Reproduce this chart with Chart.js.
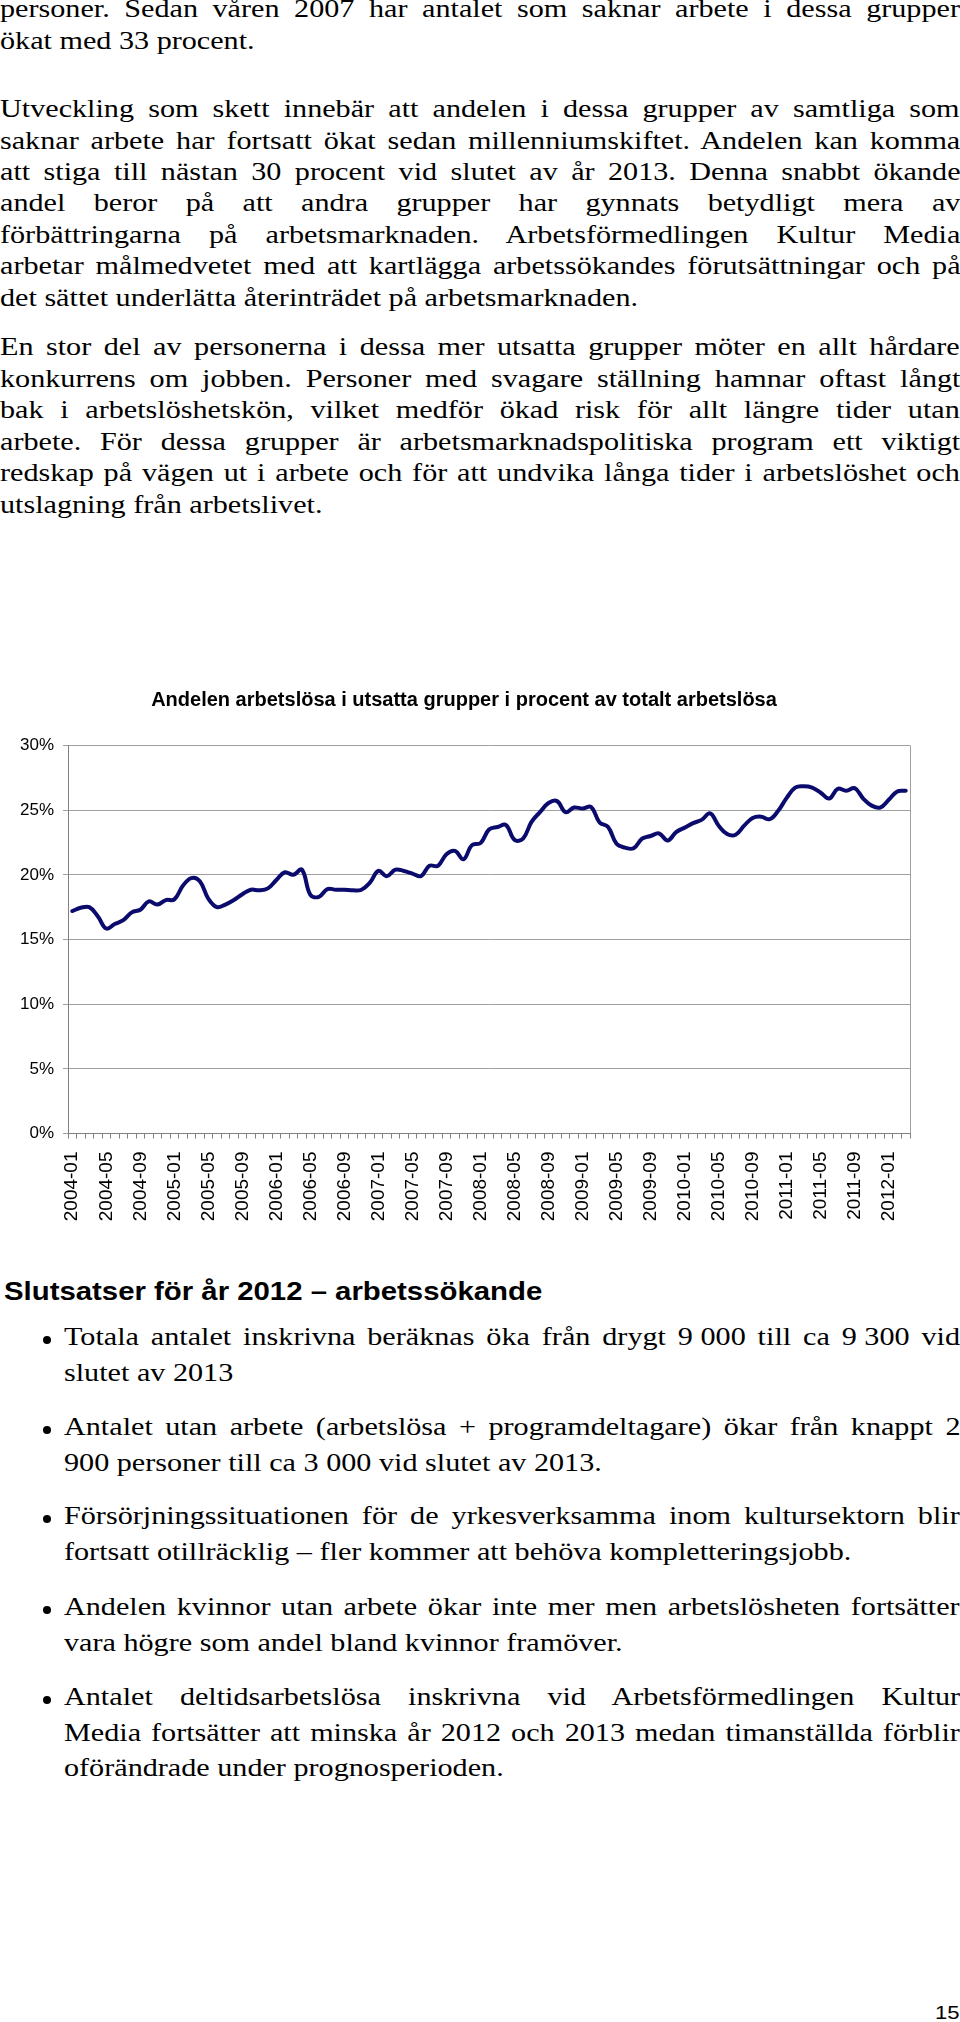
<!DOCTYPE html>
<html><head><meta charset="utf-8">
<script src="https://cdn.jsdelivr.net/npm/chart.js@4.4.1/dist/chart.umd.min.js"></script>
<style>
html,body{margin:0;padding:0;background:#fff;}
body{width:960px;height:2022px;position:relative;overflow:hidden;}
.ln{position:absolute;white-space:nowrap;transform-origin:0 0;color:#000;}
.serif{font-family:'Liberation Serif','Times New Roman',serif;}
.sans{font-family:'Liberation Sans',Arial,sans-serif;}
.nb{word-spacing:0 !important;}
.dot{position:absolute;width:8px;height:8px;border-radius:50%;background:#000;}
#chartBox{position:absolute;left:0;top:670px;width:928px;height:564px;}
</style></head><body>
<div id="text"></div>
<div id="chartBox"><canvas id="c"></canvas></div>
<script>
// ---- chart data ----
const categories = [
'2004-01','2004-02','2004-03','2004-04','2004-05','2004-06','2004-07','2004-08','2004-09','2004-10','2004-11','2004-12',
'2005-01','2005-02','2005-03','2005-04','2005-05','2005-06','2005-07','2005-08','2005-09','2005-10','2005-11','2005-12',
'2006-01','2006-02','2006-03','2006-04','2006-05','2006-06','2006-07','2006-08','2006-09','2006-10','2006-11','2006-12',
'2007-01','2007-02','2007-03','2007-04','2007-05','2007-06','2007-07','2007-08','2007-09','2007-10','2007-11','2007-12',
'2008-01','2008-02','2008-03','2008-04','2008-05','2008-06','2008-07','2008-08','2008-09','2008-10','2008-11','2008-12',
'2009-01','2009-02','2009-03','2009-04','2009-05','2009-06','2009-07','2009-08','2009-09','2009-10','2009-11','2009-12',
'2010-01','2010-02','2010-03','2010-04','2010-05','2010-06','2010-07','2010-08','2010-09','2010-10','2010-11','2010-12',
'2011-01','2011-02','2011-03','2011-04','2011-05','2011-06','2011-07','2011-08','2011-09','2011-10','2011-11','2011-12',
'2012-01','2012-02','2012-03'];

const shareUnemployed = [
17.2,17.45,17.5,16.8,15.85,16.2,16.5,17.1,17.3,17.95,17.7,18.05,
18.1,19.15,19.75,19.5,18.15,17.5,17.7,18.05,18.5,18.85,18.8,18.95,
19.6,20.2,20.0,20.4,18.45,18.3,18.9,18.85,18.85,18.8,18.85,19.4,
20.3,19.9,20.4,20.3,20.1,19.9,20.7,20.7,21.6,21.85,21.2,22.3,
22.45,23.5,23.7,23.85,22.7,22.8,24.1,24.85,25.55,25.7,24.85,25.2,
25.13,25.25,24.05,23.7,22.4,22.1,22.05,22.8,23.0,23.2,22.65,23.3,
23.65,24.0,24.25,24.75,23.8,23.15,23.1,23.8,24.4,24.5,24.3,24.95,
25.95,26.75,26.85,26.75,26.35,25.9,26.65,26.5,26.7,25.9,25.35,25.2,
25.8,26.45,26.5];

const xTickLabels = ['2004-01','2004-05','2004-09','2005-01','2005-05','2005-09','2006-01','2006-05','2006-09',
'2007-01','2007-05','2007-09','2008-01','2008-05','2008-09','2009-01','2009-05','2009-09',
'2010-01','2010-05','2010-09','2011-01','2011-05','2011-09','2012-01'];
const yTickValues = [0,5,10,15,20,25,30];
const yTickLabels = ['0%','5%','10%','15%','20%','25%','30%'];
const chartTitle = 'Andelen arbetslösa i utsatta grupper i procent av totalt arbetslösa';

// ---- page text ----
const S = 1.16; // horizontal stretch of the page
const textHost = document.getElementById('text');
function addLine(html, o){
  const el = document.createElement('div');
  el.className = 'ln ' + (o.sans ? 'sans' : 'serif');
  el.innerHTML = html;
  const k = o.sans ? 0.8465 : 0.8375;
  el.style.fontSize = o.size + 'px';
  el.style.lineHeight = o.size + 'px';
  if (o.bold) el.style.fontWeight = 'bold';
  el.style.left = o.left + 'px';
  el.style.top = (o.base - k*o.size) + 'px';
  el.style.transform = 'scaleX(' + S + ')';
  textHost.appendChild(el);
  if (o.right){
    el.style.wordSpacing = '0px';
    const w = el.offsetWidth;
    const n = el.textContent.split(' ').length - 1;
    const target = (o.right - o.left)/S;
    if (n > 0) el.style.wordSpacing = ((target - w)/n) + 'px';
  }
  return el;
}
function para(lines, base0, step, left, right){
  lines.forEach((t,i)=>{
    addLine(t, {size:26, left:left, base:base0 + i*step, right: i < lines.length-1 ? right : null});
  });
}
para(['personer. Sedan våren 2007 har antalet som saknar arbete i dessa grupper',
      'ökat med 33 procent.'], 18, 31.4, 0, 960);
para(['Utveckling som skett innebär att andelen i dessa grupper av samtliga som',
      'saknar arbete har fortsatt ökat sedan millenniumskiftet. Andelen kan komma',
      'att stiga till nästan 30 procent vid slutet av år 2013. Denna snabbt ökande',
      'andel beror på att andra grupper har gynnats betydligt mera av',
      'förbättringarna på arbetsmarknaden. Arbetsförmedlingen Kultur Media',
      'arbetar målmedvetet med att kartlägga arbetssökandes förutsättningar och på',
      'det sättet underlätta återinträdet på arbetsmarknaden.'], 118, 31.4, 0, 960);
para(['En stor del av personerna i dessa mer utsatta grupper möter en allt hårdare',
      'konkurrens om jobben. Personer med svagare ställning hamnar oftast långt',
      'bak i arbetslöshetskön, vilket medför ökad risk för allt längre tider utan',
      'arbete. För dessa grupper är arbetsmarknadspolitiska program ett viktigt',
      'redskap på vägen ut i arbete och för att undvika långa tider i arbetslöshet och',
      'utslagning från arbetslivet.'], 356, 31.5, 0, 960);

addLine('Slutsatser för år 2012 – arbetssökande', {size:25.3, sans:true, bold:true, left:4, base:1300});

const bullets = [
  {b:1345.5, lines:['Totala antalet inskrivna beräknas öka från drygt <span class="nb">9&nbsp;000</span> till ca <span class="nb">9&nbsp;300</span> vid','slutet av 2013']},
  {b:1435.5, lines:['Antalet utan arbete (arbetslösa + programdeltagare) ökar från knappt 2','900 personer till ca <span class="nb">3&nbsp;000</span> vid slutet av 2013.']},
  {b:1524.5, lines:['Försörjningssituationen för de yrkesverksamma inom kultursektorn blir','fortsatt otillräcklig – fler kommer att behöva kompletteringsjobb.']},
  {b:1615.5, lines:['Andelen kvinnor utan arbete ökar inte mer men arbetslösheten fortsätter','vara högre som andel bland kvinnor framöver.']},
  {b:1705.5, lines:['Antalet deltidsarbetslösa inskrivna vid Arbetsförmedlingen Kultur','Media fortsätter att minska år 2012 och 2013 medan timanställda förblir','oförändrade under prognosperioden.']}
];
bullets.forEach(bl=>{
  const d = document.createElement('div');
  d.className = 'dot';
  d.style.left = '43px';
  d.style.top = (bl.b - 6 - 4) + 'px';
  textHost.appendChild(d);
  para(bl.lines, bl.b, 35.8, 64, 960);
});
addLine('15', {size:19, sans:true, left:935, base:2019});

// ---- chart ----
const frame = {id:'frame', beforeDatasetsDraw(chart){
  const {ctx, chartArea:a} = chart;
  ctx.save(); ctx.strokeStyle = '#a0a0a0'; ctx.lineWidth = 1;
  const x = Math.round(a.right) + 0.5;
  ctx.beginPath(); ctx.moveTo(x, a.top); ctx.lineTo(x, a.bottom); ctx.stroke(); ctx.restore();
}};
const FONT = "'Liberation Sans', Arial, sans-serif";
new Chart(document.getElementById('c'), {
  type:'line',
  data:{labels:categories, datasets:[{data:shareUnemployed, borderColor:'#0b0b6e', borderWidth:4,
    pointRadius:0, tension:0.4, fill:false, borderCapStyle:'round', borderJoinStyle:'round'}]},
  options:{
    responsive:true, maintainAspectRatio:false, animation:false,
    layout:{padding:{left:18,right:18,top:0,bottom:0}},
    plugins:{legend:{display:false}, tooltip:{enabled:false},
      title:{display:true, text:chartTitle, color:'#000', font:{family:FONT, size:20, weight:'bold'}, padding:{top:18,bottom:33.5}}},
    scales:{
      x:{type:'category', offset:true,
        grid:{display:true, drawOnChartArea:false, drawTicks:true, tickLength:5, offset:true, color:'#808080'},
        border:{display:true, color:'#808080', width:1},
        ticks:{autoSkip:false, maxRotation:90, minRotation:90, padding:13, color:'#000', font:{family:FONT, size:19},
          callback:(v,i)=> xTickLabels.includes(categories[i]) ? categories[i] : ''},
        afterFit:(s)=>{ s.height = 100.5; s.paddingLeft = 0; s.paddingRight = 0; }},
      y:{min:0, max:30,
        ticks:{stepSize:5, padding:9, color:'#000', font:{family:FONT, size:17},
          callback:(v)=> yTickLabels[yTickValues.indexOf(v)]},
        grid:{color:'#a0a0a0', tickLength:5, drawTicks:true},
        border:{display:true, color:'#808080'},
        afterFit:(s)=>{ s.width = 50; }}
    }
  },
  plugins:[frame]
});
</script>
</body></html>
